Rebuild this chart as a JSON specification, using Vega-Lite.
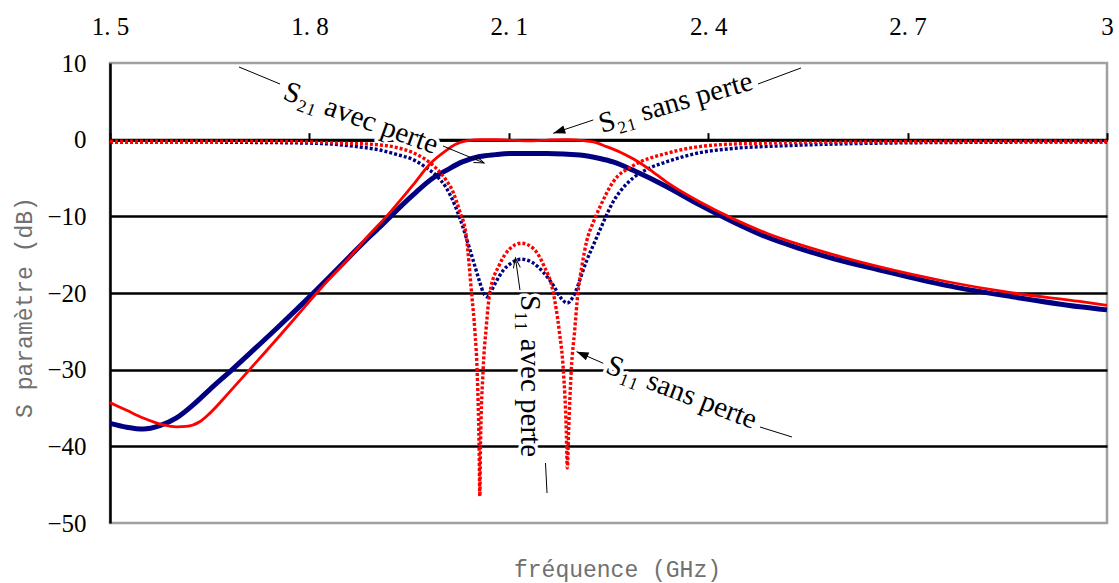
{
  "$schema": "https://vega.github.io/schema/vega-lite/v6.json",
  "width": 997,
  "height": 460,
  "autosize": {"type": "none"},
  "padding": {"left": 110, "top": 63, "right": 12, "bottom": 60},
  "background": "white",
  "config": {"view": {"stroke": "#a0a0a0", "strokeWidth": 2.5}},
  "datasets": {
    "s21_avec": [
      {"f":1.5,"db":-37.0},{"f":1.525,"db":-37.5},{"f":1.55,"db":-37.75},{"f":1.575,"db":-37.3},{"f":1.6,"db":-36.3},{"f":1.625,"db":-34.6},{"f":1.65,"db":-32.6},{"f":1.685,"db":-29.9},{"f":1.72,"db":-27.1},{"f":1.751,"db":-24.6},{"f":1.78,"db":-22.2},{"f":1.806,"db":-20.0},{"f":1.835,"db":-17.5},{"f":1.861,"db":-15.2},{"f":1.89,"db":-12.7},{"f":1.906,"db":-11.4},{"f":1.921,"db":-10.1},{"f":1.956,"db":-7.2},{"f":1.986,"db":-5.0},{"f":2.006,"db":-4.0},{"f":2.03,"db":-2.9},{"f":2.056,"db":-2.2},{"f":2.08,"db":-1.95},{"f":2.106,"db":-1.8},{"f":2.157,"db":-1.8},{"f":2.207,"db":-2.0},{"f":2.237,"db":-2.45},{"f":2.257,"db":-2.9},{"f":2.287,"db":-4.0},{"f":2.337,"db":-6.1},{"f":2.387,"db":-8.5},{"f":2.437,"db":-10.7},{"f":2.488,"db":-12.7},{"f":2.538,"db":-14.2},{"f":2.588,"db":-15.5},{"f":2.658,"db":-17.0},{"f":2.758,"db":-19.0},{"f":2.858,"db":-20.5},{"f":2.959,"db":-21.8},{"f":3.0,"db":-22.2}
    ],
    "s21_sans": [
      {"f":1.5,"db":-34.3},{"f":1.525,"db":-35.3},{"f":1.55,"db":-36.3},{"f":1.58,"db":-37.2},{"f":1.6,"db":-37.45},{"f":1.615,"db":-37.4},{"f":1.635,"db":-36.8},{"f":1.65,"db":-35.7},{"f":1.68,"db":-32.9},{"f":1.711,"db":-29.9},{"f":1.751,"db":-26.0},{"f":1.781,"db":-23.0},{"f":1.811,"db":-20.0},{"f":1.836,"db":-17.6},{"f":1.861,"db":-15.3},{"f":1.89,"db":-12.4},{"f":1.916,"db":-10.0},{"f":1.956,"db":-5.9},{"f":1.981,"db":-3.2},{"f":2.006,"db":-1.4},{"f":2.02,"db":-0.6},{"f":2.036,"db":-0.15},{"f":2.06,"db":0.0},{"f":2.081,"db":0.0},{"f":2.11,"db":-0.1},{"f":2.132,"db":-0.15},{"f":2.16,"db":-0.05},{"f":2.187,"db":0.0},{"f":2.21,"db":-0.1},{"f":2.227,"db":-0.3},{"f":2.247,"db":-0.9},{"f":2.267,"db":-1.6},{"f":2.287,"db":-2.5},{"f":2.312,"db":-3.9},{"f":2.337,"db":-5.5},{"f":2.387,"db":-8.1},{"f":2.437,"db":-10.3},{"f":2.488,"db":-12.2},{"f":2.538,"db":-13.7},{"f":2.588,"db":-15.0},{"f":2.658,"db":-16.6},{"f":2.758,"db":-18.5},{"f":2.858,"db":-20.0},{"f":2.959,"db":-21.1},{"f":3.0,"db":-21.6}
    ],
    "s11_avec": [
      {"f":1.5,"db":-0.3},{"f":1.6,"db":-0.3},{"f":1.7,"db":-0.35},{"f":1.8,"db":-0.45},{"f":1.851,"db":-0.7},{"f":1.88,"db":-1.0},{"f":1.906,"db":-1.35},{"f":1.93,"db":-1.9},{"f":1.956,"db":-2.6},{"f":1.975,"db":-3.6},{"f":1.991,"db":-4.7},{"f":2.006,"db":-6.3},{"f":2.021,"db":-9.0},{"f":2.031,"db":-11.4},{"f":2.041,"db":-14.2},{"f":2.05,"db":-16.8},{"f":2.056,"db":-18.5},{"f":2.062,"db":-20.0},{"f":2.067,"db":-20.5},{"f":2.073,"db":-19.8},{"f":2.081,"db":-18.5},{"f":2.092,"db":-17.0},{"f":2.102,"db":-16.2},{"f":2.119,"db":-15.6},{"f":2.135,"db":-16.0},{"f":2.152,"db":-17.3},{"f":2.167,"db":-19.0},{"f":2.178,"db":-20.6},{"f":2.188,"db":-21.3},{"f":2.196,"db":-20.6},{"f":2.202,"db":-19.5},{"f":2.208,"db":-18.0},{"f":2.217,"db":-15.8},{"f":2.227,"db":-13.8},{"f":2.237,"db":-11.8},{"f":2.257,"db":-8.1},{"f":2.277,"db":-5.8},{"f":2.287,"db":-5.0},{"f":2.312,"db":-3.7},{"f":2.337,"db":-2.9},{"f":2.387,"db":-1.7},{"f":2.437,"db":-1.15},{"f":2.513,"db":-0.8},{"f":2.628,"db":-0.5},{"f":2.8,"db":-0.35},{"f":3.0,"db":-0.3}
    ],
    "s11_sans": [
      {"f":1.5,"db":-0.2},{"f":1.7,"db":-0.2},{"f":1.8,"db":-0.3},{"f":1.851,"db":-0.45},{"f":1.901,"db":-0.65},{"f":1.93,"db":-1.0},{"f":1.956,"db":-1.7},{"f":1.975,"db":-2.6},{"f":1.991,"db":-3.75},{"f":2.005,"db":-5.2},{"f":2.016,"db":-6.8},{"f":2.026,"db":-9.3},{"f":2.036,"db":-12.6},{"f":2.044,"db":-20.0},{"f":2.049,"db":-25.0},{"f":2.0523,"db":-30.0},{"f":2.0553,"db":-40.0},{"f":2.0564,"db":-46.5},{"f":2.0574,"db":-40.0},{"f":2.0614,"db":-30.0},{"f":2.066,"db":-24.5},{"f":2.0714,"db":-20.0},{"f":2.086,"db":-16.3},{"f":2.102,"db":-14.2},{"f":2.119,"db":-13.5},{"f":2.137,"db":-14.2},{"f":2.152,"db":-16.3},{"f":2.167,"db":-20.0},{"f":2.176,"db":-25.0},{"f":2.182,"db":-30.0},{"f":2.1865,"db":-38.0},{"f":2.188,"db":-42.8},{"f":2.19,"db":-38.0},{"f":2.194,"db":-30.0},{"f":2.199,"db":-25.0},{"f":2.204,"db":-20.0},{"f":2.21,"db":-16.5},{"f":2.217,"db":-13.3},{"f":2.227,"db":-10.8},{"f":2.237,"db":-8.8},{"f":2.257,"db":-5.5},{"f":2.287,"db":-3.4},{"f":2.337,"db":-1.8},{"f":2.387,"db":-0.9},{"f":2.462,"db":-0.5},{"f":2.628,"db":-0.3},{"f":3.0,"db":-0.2}
    ],
    "labels": [
      {"id":"A","f":1.8776,"db":2.83,"text":"S₂₁ avec perte"},
      {"id":"B","f":2.3508,"db":4.85,"text":"S₂₁ sans perte"},
      {"id":"C","f":2.1319,"db":-30.83,"text":"S₁₁ avec perte"},
      {"id":"D","f":2.3601,"db":-32.95,"text":"S₁₁ sans perte"}
    ],
    "leaders": [
      {"f":1.6941,"db":9.48,"f2":1.7558,"db2":7.26},
      {"f":2.001,"db":-0.83,"f2":2.0627,"db2":-3.04},
      {"f":2.2271,"db":2.57,"f2":2.1669,"db2":0.83},
      {"f":2.4749,"db":7.26,"f2":2.5396,"db2":9.35},
      {"f":2.1168,"db":-19.61,"f2":2.11,"db2":-15.43},
      {"f":2.1552,"db":-42.17,"f2":2.1575,"db2":-46.09},
      {"f":2.2421,"db":-29.17,"f2":2.202,"db2":-27.65},
      {"f":2.4779,"db":-37.48,"f2":2.526,"db2":-38.78}
    ],
    "arrows": [
      {"id":"A","f":2.0627,"db":-3.04},
      {"id":"B","f":2.1669,"db":0.83},
      {"id":"C","f":2.11,"db":-15.43},
      {"id":"D","f":2.202,"db":-27.65}
    ]
  },
  "resolve": {"axis": {"x": "independent"}},
  "layer": [
    {
      "encoding": {
        "x": {"field":"f","type":"quantitative","scale":{"domain":[1.5,3],"nice":false,"zero":false},
          "axis": {"orient":"top","values":[1.5,1.8,2.1,2.4,2.7,3],"labelExpr":"datum.value == 3 ? '3' : replace(format(datum.value, '.1f'), '.', '. ')","domain":false,"ticks":false,"tickSize":0,"grid":false,"labelFont":"Liberation Serif","labelFontSize":25,"labelColor":"black","labelPadding":24,"labelOverlap":false,"labelFlush":false,"title":null}},
        "y": {"field":"db","type":"quantitative","scale":{"domain":[-50,10],"nice":false,"zero":false},
          "axis": {"orient":"left","values":[-50,-40,-30,-20,-10,0,10],"grid":true,"gridColor":"black","gridWidth":2.5,
            "gridOpacity":{"condition":{"test":"datum.value == 10 || datum.value == -50","value":0},"value":1},
            "domainColor":"black","domainWidth":2.5,"ticks":false,"tickSize":0,"labelFont":"Liberation Serif","labelFontSize":25,"labelColor":"black","labelPadding":24,"labelOverlap":false,
            "title":"S paramètre (dB)","titleFont":"Liberation Mono","titleFontSize":23,"titleFontWeight":"normal","titleColor":"#707070","titlePadding":10,"titleY":244}}
      },
      "layer": [
        {"data":{"name":"labels"},"transform":[{"filter":"datum.id == 'A'"}],"mark":{"type":"text","angle":20,"font":"Liberation Serif","fontSize":29,"align":"center","baseline":"middle","fill":"white","stroke":"white","strokeWidth":7,"strokeJoin":"round"},"encoding":{"text":{"field":"text"}}},
        {"data":{"name":"labels"},"transform":[{"filter":"datum.id == 'B'"}],"mark":{"type":"text","angle":-16,"font":"Liberation Serif","fontSize":29,"align":"center","baseline":"middle","fill":"white","stroke":"white","strokeWidth":7,"strokeJoin":"round"},"encoding":{"text":{"field":"text"}}},
        {"data":{"name":"labels"},"transform":[{"filter":"datum.id == 'C'"}],"mark":{"type":"text","angle":90,"font":"Liberation Serif","fontSize":29,"align":"center","baseline":"middle","fill":"white","stroke":"white","strokeWidth":7,"strokeJoin":"round"},"encoding":{"text":{"field":"text"}}},
        {"data":{"name":"labels"},"transform":[{"filter":"datum.id == 'D'"}],"mark":{"type":"text","angle":21,"font":"Liberation Serif","fontSize":29,"align":"center","baseline":"middle","fill":"white","stroke":"white","strokeWidth":7,"strokeJoin":"round"},"encoding":{"text":{"field":"text"}}},
        {"data":{"name":"s21_avec"},"mark":{"type":"line","color":"#000080","strokeWidth":5,"interpolate":"monotone"}},
        {"data":{"name":"s11_avec"},"mark":{"type":"line","color":"#000080","strokeWidth":3.4,"strokeDash":[3,2],"interpolate":"monotone"}},
        {"data":{"name":"s21_sans"},"mark":{"type":"line","color":"#ff0000","strokeWidth":2.8,"interpolate":"monotone"}},
        {"data":{"name":"s11_sans"},"mark":{"type":"line","color":"#ff0000","strokeWidth":3.4,"strokeDash":[3,2],"interpolate":"monotone"}},
        {"data":{"name":"labels"},"transform":[{"filter":"datum.id == 'A'"}],"mark":{"type":"text","angle":20,"font":"Liberation Serif","fontSize":29,"align":"center","baseline":"middle","color":"black"},"encoding":{"text":{"field":"text"}}},
        {"data":{"name":"labels"},"transform":[{"filter":"datum.id == 'B'"}],"mark":{"type":"text","angle":-16,"font":"Liberation Serif","fontSize":29,"align":"center","baseline":"middle","color":"black"},"encoding":{"text":{"field":"text"}}},
        {"data":{"name":"labels"},"transform":[{"filter":"datum.id == 'C'"}],"mark":{"type":"text","angle":90,"font":"Liberation Serif","fontSize":29,"align":"center","baseline":"middle","color":"black"},"encoding":{"text":{"field":"text"}}},
        {"data":{"name":"labels"},"transform":[{"filter":"datum.id == 'D'"}],"mark":{"type":"text","angle":21,"font":"Liberation Serif","fontSize":29,"align":"center","baseline":"middle","color":"black"},"encoding":{"text":{"field":"text"}}}
      ]
    },
    {
      "data": {"name":"leaders"},
      "mark": {"type":"rule","color":"black","strokeWidth":1},
      "encoding": {
        "x": {"field":"f","type":"quantitative","scale":{"domain":[1.5,3],"nice":false,"zero":false},
          "axis": {"orient":"top","offset":-76.67,"values":[1.5,1.8,2.1,2.4,2.7,3],"labels":false,"domain":true,"domainColor":"black","domainWidth":3,"ticks":true,"tickColor":"black","tickWidth":2,"tickSize":7,"grid":false,"title":null}},
        "y": {"field":"db","type":"quantitative","scale":{"domain":[-50,10],"nice":false,"zero":false}},
        "x2": {"field":"f2"},
        "y2": {"field":"db2"}
      }
    },
    {
      "encoding": {
        "x": {"field":"f","type":"quantitative","scale":{"domain":[1.5,3],"nice":false,"zero":false},
          "axis": {"orient":"bottom","labels":false,"ticks":false,"domain":false,"grid":false,"title":"fréquence (GHz)","titleFont":"Liberation Mono","titleFontSize":23,"titleFontWeight":"normal","titleColor":"#707070","titlePadding":35,"titleX":507}},
        "y": {"field":"db","type":"quantitative","scale":{"domain":[-50,10],"nice":false,"zero":false}}
      },
      "layer": [
        {"data":{"name":"arrows"},"transform":[{"filter":"datum.id == 'A'"}],"mark":{"type":"point","shape":"M-2,-0.7L0,0L-2,0.7","filled":false,"stroke":"black","strokeWidth":1,"size":100,"angle":22.5,"opacity":1}},
        {"data":{"name":"arrows"},"transform":[{"filter":"datum.id == 'B'"}],"mark":{"type":"point","shape":"M0,0L-2,-0.7L-2,0.7Z","filled":true,"color":"black","size":144,"angle":161.6,"opacity":1}},
        {"data":{"name":"arrows"},"transform":[{"filter":"datum.id == 'C'"}],"mark":{"type":"point","shape":"M-2,-0.7L0,0L-2,0.7","filled":false,"stroke":"black","strokeWidth":1,"size":100,"angle":262,"opacity":1}},
        {"data":{"name":"arrows"},"transform":[{"filter":"datum.id == 'D'"}],"mark":{"type":"point","shape":"M0,0L-2,-0.7L-2,0.7Z","filled":true,"color":"black","size":144,"angle":203.6,"opacity":1}}
      ]
    }
  ]
}
